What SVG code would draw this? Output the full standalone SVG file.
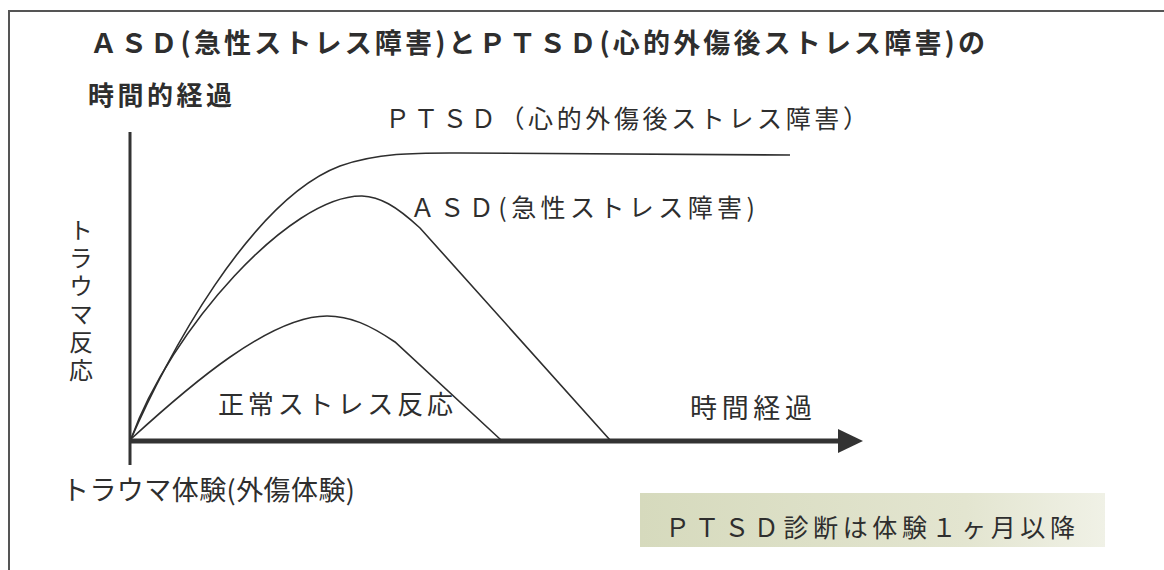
<svg xmlns="http://www.w3.org/2000/svg" width="1164" height="570" viewBox="0 0 1164 570">
  <defs>
    <style>
      .t { font-family: "Noto Sans CJK JP", "Noto Sans", sans-serif; fill: #2e2e2e; }
      .b { font-weight: bold; }
      .curve { fill: none; stroke: #2e2e2e; stroke-width: 1.6; }
      .axis { stroke: #333; fill: none; }
    </style>
    <linearGradient id="boxg" x1="0" y1="0" x2="1" y2="0">
      <stop offset="0" stop-color="#d6dabd"/>
      <stop offset="0.7" stop-color="#e3e5d0"/>
      <stop offset="1" stop-color="#f0f1e6"/>
    </linearGradient>
  </defs>
  <rect width="1164" height="570" fill="#ffffff"/>
  <g id="frame">
    <line x1="9" y1="11" x2="1164" y2="11" stroke="#555" stroke-width="2"/>
    <line x1="9" y1="10" x2="9" y2="570" stroke="#555" stroke-width="2"/>
  </g>
  <g id="title">
    <text class="t b" x="90" y="53" font-size="27" textLength="895" lengthAdjust="spacing">ＡＳＤ(急性ストレス障害)とＰＴＳＤ(心的外傷後ストレス障害)の</text>
    <text class="t b" x="88" y="105" font-size="26" textLength="144" lengthAdjust="spacing">時間的経過</text>
  </g>
  <g id="axes">
    <line class="axis" x1="130" y1="132" x2="130" y2="465" stroke-width="3"/>
    <line class="axis" x1="129" y1="441" x2="842" y2="441" stroke-width="5"/>
    <polygon points="838,429 863,441 838,453" fill="#333"/>
  </g>
  <g id="connectors">
    <path id="ptsd-curve" class="curve" d="M131,439 C165,360 250,200 340,166 C380,152 420,153 460,153 L790,155"/>
    <path id="asd-curve" class="curve" d="M131,439 C170,330 290,195 362,196 C380,197 395,205 420,228 L610,440"/>
    <path id="normal-curve" class="curve" d="M131,439 C190,385 270,316 327,316 C350,316 370,325 395,342 L501,440"/>
  </g>
  <g id="ptsd-label">
    <text class="t" x="385" y="128" font-size="25" textLength="483" lengthAdjust="spacing">ＰＴＳＤ（心的外傷後ストレス障害）</text>
  </g>
  <g id="asd-label">
    <text class="t" x="410" y="217" font-size="25" textLength="345" lengthAdjust="spacing">ＡＳＤ(急性ストレス障害)</text>
  </g>
  <g id="normal-label">
    <text class="t" x="218" y="414" font-size="26" textLength="235" lengthAdjust="spacing">正常ストレス反応</text>
  </g>
  <g id="time-label">
    <text class="t" x="690" y="418" font-size="27" textLength="122" lengthAdjust="spacing">時間経過</text>
  </g>
  <g id="y-label">
    <text class="t" x="81" y="218" font-size="24" letter-spacing="4" style="writing-mode: vertical-rl">トラウマ反応</text>
  </g>
  <g id="origin-label">
    <text class="t" x="62" y="500" font-size="27" textLength="293" lengthAdjust="spacing">トラウマ体験(外傷体験)</text>
  </g>
  <g id="note">
    <rect x="640" y="493" width="465" height="54" fill="url(#boxg)"/>
    <text class="t" x="665" y="537" font-size="25" textLength="410" lengthAdjust="spacing">ＰＴＳＤ診断は体験１ヶ月以降</text>
  </g>
</svg>
